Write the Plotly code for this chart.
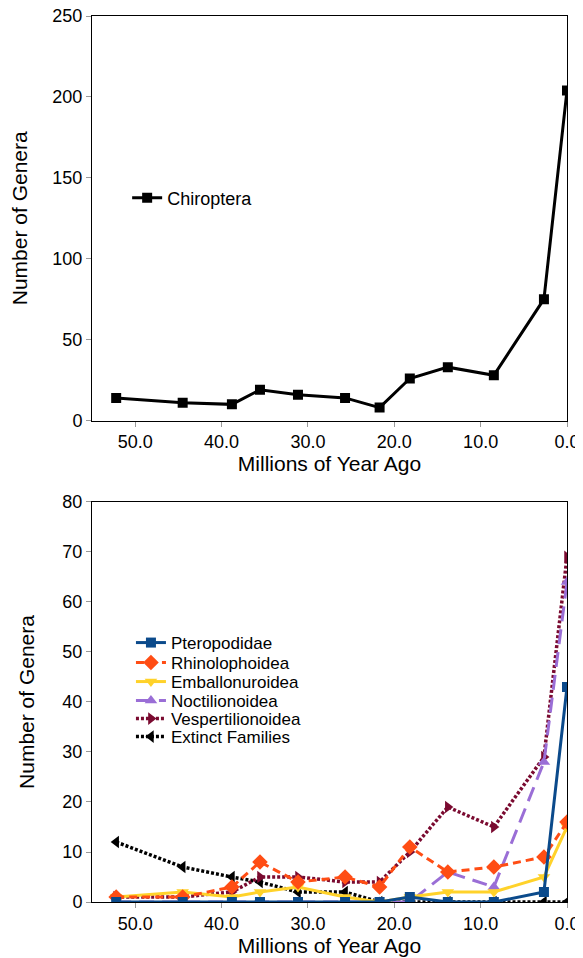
import plotly.graph_objects as go
from plotly.subplots import make_subplots

# Time points (millions of years ago)
ages = [52.2, 44.5, 38.8, 35.55, 31.15, 25.7, 21.7, 18.2, 13.8, 8.47, 2.67, 0.0]

chiroptera = [14, 11, 10, 19, 16, 14, 8, 26, 33, 28, 75, 204]

pteropodidae = [0, 0, 0, 0, 0, 0, 0, 1, 0, 0, 2, 43]
rhinolophoidea = [1, 1, 3, 8, 4, 5, 3, 11, 6, 7, 9, 16]
emballonuroidea = [1, 2, 1, 2, 3, 1, 0, 1, 2, 2, 5, 15]
noctilionoidea = [0, 0, 0, 0, 0, 0, 0, 0, 6, 3, 28, 64]
vespertilionoidea = [1, 1, 2, 5, 5, 4, 4, 10, 19, 15, 29, 69]
extinct = [12, 7, 5, 4, 2, 2, 0, 0, 0, 0, 0, 0]

x_ticks = [50, 40, 30, 20, 10, 0]
top_y_ticks = [0, 50, 100, 150, 200, 250]
bot_y_ticks = [0, 10, 20, 30, 40, 50, 60, 70, 80]

FONT = "Liberation Sans, Arial, Helvetica, sans-serif"

fig = make_subplots(rows=2, cols=1, vertical_spacing=0.0919)

fig.add_trace(go.Scatter(
    x=ages, y=chiroptera, name="Chiroptera", mode="lines+markers",
    line=dict(color="black", width=3),
    marker=dict(symbol="square", size=10, color="black"),
    showlegend=True, legend="legend"), row=1, col=1)

# (name, values, color, dash, symbol, marker size, line width, legend id)
series = [
    ("Extinct Families", extinct, "#000000", "3px,2px", "triangle-left", 11, 3.5, "legend7"),
    ("Vespertilionoidea", vespertilionoidea, "#7a0a30", "3px,2px", "triangle-right", 11, 3.5, "legend6"),
    ("Noctilionoidea", noctilionoidea, "#9a6ed6", "15px,8px", "triangle-up", 11, 3, "legend5"),
    ("Emballonuroidea", emballonuroidea, "#ffd22a", "solid", "triangle-down", 11, 3, "legend4"),
    ("Rhinolophoidea", rhinolophoidea, "#ff4d14", "8px,5px", "diamond", 12, 3, "legend3"),
    ("Pteropodidae", pteropodidae, "#0b4a8b", "solid", "square", 10, 3, "legend2"),
]
for name, vals, color, dash, sym, msize, lw, leg in series:
    fig.add_trace(go.Scatter(
        x=ages, y=vals, name=name, mode="lines+markers",
        line=dict(color=color, width=lw, dash=dash),
        marker=dict(symbol=sym, size=msize, color=color),
        showlegend=True, legend=leg), row=2, col=1)

axis_common = dict(
    showline=True, linecolor="black", linewidth=1, mirror=True,
    ticks="outside", ticklen=5, tickcolor="#999999", tickwidth=1,
    showgrid=False, zeroline=False, automargin=False,
    ticklabeloverflow="allow",
    tickfont=dict(family=FONT, size=18, color="black"),
)

for r in (1, 2):
    fig.update_xaxes(
        range=[55, 0], tickvals=x_ticks, tickformat=".1f",
        title=dict(text="Millions of Year Ago", font=dict(family=FONT, size=21, color="black"), standoff=1),
        row=r, col=1, **axis_common)

fig.update_yaxes(range=[0, 250], tickvals=top_y_ticks,
                 title=dict(text="Number of Genera", font=dict(family=FONT, size=21, color="black"), standoff=22),
                 row=1, col=1, **axis_common)
fig.update_yaxes(range=[0, 80], tickvals=bot_y_ticks,
                 title=dict(text="Number of Genera", font=dict(family=FONT, size=21, color="black"), standoff=22),
                 row=2, col=1, **axis_common)

leg_common = dict(xanchor="left", yanchor="middle", bgcolor="rgba(0,0,0,0)",
                  itemwidth=30, borderwidth=0)

layout_legends = dict(
    legend=dict(x=0.074, y=0.7946, font=dict(family=FONT, size=18, color="black"), **leg_common),
)
bottom_rows = [("legend2", 0.2923), ("legend3", 0.2698), ("legend4", 0.2483),
               ("legend5", 0.2269), ("legend6", 0.2065), ("legend7", 0.1862)]
for lid, ypos in bottom_rows:
    layout_legends[lid] = dict(x=0.082, y=ypos, font=dict(family=FONT, size=17, color="black"), **leg_common)

# The page body adds an 8px margin, so the figure is 8px smaller than the window.
fig.update_layout(
    width=575, height=950,
    margin=dict(l=84, r=16, t=8, b=56, autoexpand=False),
    plot_bgcolor="white", paper_bgcolor="white",
    font=dict(family=FONT, color="black"),
    yaxis=dict(domain=[0.5434, 1.0]),
    yaxis2=dict(domain=[0.0, 0.4515]),
    **layout_legends,
)

fig.write_html("out.html")
